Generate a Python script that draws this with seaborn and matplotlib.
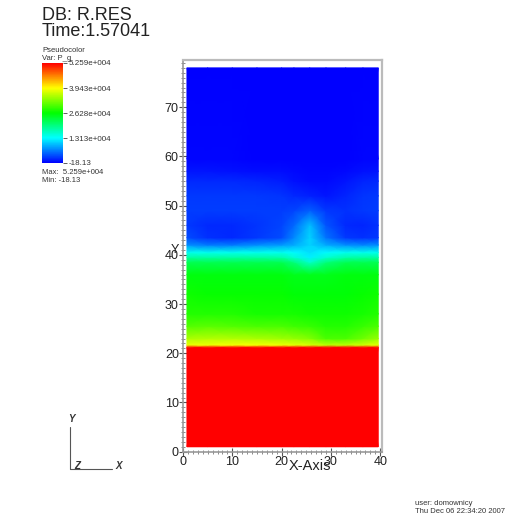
import numpy as np
import matplotlib
matplotlib.use("Agg")
import matplotlib.pyplot as plt
from matplotlib.lines import Line2D
from matplotlib.ticker import MultipleLocator
import seaborn as sns

# P_g field, values in units of 1e4
x_nodes = [0.8, 5, 10, 15, 20, 22.5, 25.7, 29, 33, 36.5, 39.6]
y_nodes = [1, 21.2, 21.7, 23, 25.5, 28, 32, 36, 38.5, 39.5, 40.5, 42, 43.5, 46, 49,
           52, 55, 57, 59.5, 78]
p_g = [
    [5.259] * 11,
    [5.259] * 11,
    [3.85, 3.85, 3.90, 3.90, 3.85, 3.80, 3.75, 3.60, 3.60, 3.70, 3.80],
    [3.50, 3.55, 3.55, 3.50, 3.45, 3.40, 3.30, 3.00, 3.00, 3.20, 3.40],
    [3.05, 3.10, 3.05, 3.00, 3.00, 2.95, 2.90, 2.80, 2.80, 2.90, 3.00],
    [2.80, 2.80, 2.80, 2.75, 2.75, 2.75, 2.70, 2.70, 2.70, 2.75, 2.80],
    [2.70, 2.65, 2.65, 2.65, 2.65, 2.60, 2.60, 2.60, 2.60, 2.65, 2.70],
    [2.55, 2.55, 2.55, 2.55, 2.55, 2.50, 2.50, 2.50, 2.55, 2.55, 2.55],
    [2.20, 2.20, 2.20, 2.20, 2.20, 2.00, 1.60, 2.00, 2.20, 2.20, 2.20],
    [1.80, 1.80, 1.80, 1.80, 1.75, 1.55, 1.25, 1.55, 1.75, 1.80, 1.80],
    [1.40, 1.40, 1.40, 1.40, 1.40, 1.30, 1.15, 1.30, 1.40, 1.40, 1.40],
    [0.75, 0.65, 0.65, 0.75, 0.80, 0.90, 1.10, 0.90, 0.75, 0.70, 0.75],
    [0.40, 0.25, 0.22, 0.30, 0.40, 0.70, 1.10, 0.60, 0.30, 0.25, 0.30],
    [0.30, 0.22, 0.22, 0.28, 0.35, 0.55, 1.00, 0.45, 0.22, 0.20, 0.25],
    [0.32, 0.32, 0.32, 0.32, 0.32, 0.35, 0.50, 0.30, 0.25, 0.30, 0.32],
    [0.30, 0.30, 0.30, 0.30, 0.28, 0.22, 0.18, 0.12, 0.20, 0.28, 0.30],
    [0.22, 0.22, 0.22, 0.20, 0.16, 0.10, 0.05, 0.04, 0.12, 0.20, 0.22],
    [0.12, 0.12, 0.10, 0.08, 0.06, 0.04, 0.02, 0.02, 0.05, 0.10, 0.12],
    [0.02, 0.02, 0.02, 0.01, 0.01, 0.01, 0.00, 0.00, 0.01, 0.02, 0.02],
    [0.00] * 11,
]
v_min = -18.13
v_max = 52590
cbar_ticks = [52590, 39430, 26280, 13130, -18.13]
cbar_labels = ["5.259e+004", "3.943e+004", "2.628e+004", "1.313e+004", "-18.13"]

sns.set_style("white")
plt.rcParams['font.family'] = ['Liberation Sans', 'DejaVu Sans']

W, H = 528, 518
def px(x, y):
    return x / W, 1 - y / H

cmap = sns.blend_palette(["#0000ff", "#00ffff", "#00ff00", "#ffff00", "#ff0000"], as_cmap=True)

fig = plt.figure(figsize=(W / 100, H / 100), dpi=100)
ax = fig.add_axes([183 / W, 1 - 451.7 / H, 198.7 / W, 391.7 / H])

X, Y = np.meshgrid(x_nodes, y_nodes)
C = np.array(p_g) * 1e4
mesh = ax.pcolormesh(X, Y, C, shading='gouraud', cmap=cmap, vmin=v_min, vmax=v_max)

ax.set_xlim(0, 40.3)
ax.set_ylim(0, 79.6)
ax.set_xticks([0, 10, 20, 30, 40])
ax.set_yticks(range(0, 80, 10))
ax.xaxis.set_minor_locator(MultipleLocator(1))
ax.yaxis.set_minor_locator(MultipleLocator(1))
ax.tick_params(which='major', direction='inout', length=6, width=0.8, color='#555555',
               labelsize=9, pad=0, labelcolor='#222222', bottom=True, left=True)
ax.tick_params(which='minor', direction='inout', length=3, width=0.6, color='#777777',
               bottom=True, left=True)
for s in ['top', 'right']:
    ax.spines[s].set_color('#bbbbbb')
    ax.spines[s].set_linewidth(1.6)
for s in ['left', 'bottom']:
    ax.spines[s].set_color('#999999')
    ax.spines[s].set_linewidth(1.2)

fig.text(*px(310, 466), "X-Axis", fontsize=10.5, ha='center', va='center', color='#222222')
fig.text(*px(175, 250), "Y", fontsize=9, ha='center', va='center', color='#222222')

# colour legend
cax = fig.add_axes([42 / W, 1 - 163 / H, 21 / W, 100 / H])
cb = fig.colorbar(mesh, cax=cax, ticks=cbar_ticks)
cb.ax.set_yticklabels(cbar_labels)
cb.outline.set_visible(False)
cax.tick_params(length=3, width=0.6, pad=1, labelsize=5.8, color='#444444', labelcolor='#333333')

fig.text(*px(42, 20), "DB: R.RES", fontsize=13, ha='left', va='baseline', color='#222222')
fig.text(*px(42, 36), "Time:1.57041", fontsize=13, ha='left', va='baseline', color='#222222')
fig.text(*px(42, 52), "Pseudocolor", fontsize=5.5, ha='left', va='baseline', color='#333333')
fig.text(*px(42, 60), "Var: P_g", fontsize=5.5, ha='left', va='baseline', color='#333333')
fig.text(*px(42, 174), "Max:  5.259e+004", fontsize=5.5, ha='left', va='baseline', color='#333333')
fig.text(*px(42, 182), "Min: -18.13", fontsize=5.5, ha='left', va='baseline', color='#333333')

# axis triad
fig.add_artist(Line2D([69.5 / W, 69.5 / W], [1 - 426.7 / H, 1 - 469.3 / H], color='#555555', lw=0.8))
fig.add_artist(Line2D([69.5 / W, 111.7 / W], [1 - 469.3 / H, 1 - 469.3 / H], color='#555555', lw=0.8))
fig.text(*px(71, 419), "Y", fontsize=7, style='italic', weight='bold', ha='center', va='center', color='#333333')
fig.text(*px(77, 466), "Z", fontsize=7, style='italic', weight='bold', ha='center', va='center', color='#333333')
fig.text(*px(119, 466), "X", fontsize=7, style='italic', weight='bold', ha='center', va='center', color='#333333')

fig.text(*px(415, 505), "user: domownicy", fontsize=5.5, ha='left', va='baseline', color='#333333')
fig.text(*px(415, 513), "Thu Dec 06 22:34:20 2007", fontsize=5.5, ha='left', va='baseline', color='#333333')

fig.savefig("out.png", dpi=100)
